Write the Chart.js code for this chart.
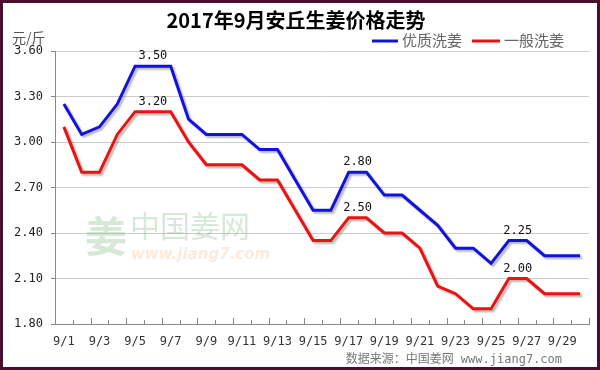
<!DOCTYPE html>
<html>
<head>
<meta charset="utf-8">
<script src="https://cdn.jsdelivr.net/npm/chart.js@4/dist/chart.umd.min.js"></script>
<style>
  body { margin: 0; background: #fff; }
  #wrap { width: 600px; height: 370px; position: relative; }
</style>
</head>
<body>
<div id="wrap"><canvas id="chart"></canvas></div>
<script>
// 2017年9月安丘生姜价格走势 (元/斤)
const days = ['9/1','9/2','9/3','9/4','9/5','9/6','9/7','9/8','9/9','9/10',
              '9/11','9/12','9/13','9/14','9/15','9/16','9/17','9/18','9/19','9/20',
              '9/21','9/22','9/23','9/24','9/25','9/26','9/27','9/28','9/29','9/30'];
const premium = [3.25,3.05,3.10,3.25,3.50,3.50,3.50,3.15,3.05,3.05,
                 3.05,2.95,2.95,2.75,2.55,2.55,2.80,2.80,2.65,2.65,
                 2.55,2.45,2.30,2.30,2.20,2.35,2.35,2.25,2.25,2.25];
const normal = [3.10,2.80,2.80,3.05,3.20,3.20,3.20,3.00,2.85,2.85,
                2.85,2.75,2.75,2.55,2.35,2.35,2.50,2.50,2.40,2.40,
                2.30,2.05,2.00,1.90,1.90,2.10,2.10,2.00,2.00,2.00];
const yTicks = [1.80, 2.10, 2.40, 2.70, 3.00, 3.30, 3.60];
const noteAt = [5, 16.5, 25.5];
const premiumNotes = ['3.50', '2.80', '2.25'];
const normalNotes = ['3.20', '2.50', '2.00'];

const monoFont = "'DejaVu Sans Mono', monospace";
const cjkFont = "'Noto Sans CJK SC', sans-serif";

const decorPlugin = {
    id: 'decor',
    beforeDatasetsDraw(chart) {
        var ctx = chart.ctx;
        // watermark
        ctx.save();
        ctx.textBaseline = 'middle';
        ctx.fillStyle = 'rgba(120,180,120,0.3)';
        ctx.font = "bold 42px " + cjkFont;
        ctx.fillText('姜', 85, 236);
        ctx.font = "30px " + cjkFont;
        ctx.fillText('中国姜网', 130, 226);
        ctx.fillStyle = 'rgba(245,170,110,0.25)';
        ctx.font = "italic bold 15px 'DejaVu Sans', sans-serif";
        ctx.fillText('www.jiang7.com', 131, 255);
        ctx.restore();
    },
    beforeDatasetDraw(chart) {
        var ctx = chart.ctx;
        ctx.save();
        ctx.shadowColor = 'rgba(90,90,90,0.45)';
        ctx.shadowBlur = 2;
        ctx.shadowOffsetX = 2;
        ctx.shadowOffsetY = 2;
    },
    afterDatasetDraw(chart) {
        chart.ctx.restore();
    },
    afterDraw(chart) {
        var ctx = chart.ctx;
        var area = chart.chartArea;
        var xs = chart.scales.x;
        var ys = chart.scales.y;
        ctx.save();

        // small tick marks inside the x axis
        var step = (area.right - area.left) / days.length;
        ctx.strokeStyle = '#888';
        ctx.lineWidth = 1;
        ctx.beginPath();
        for (var i = 1; i <= days.length; i++) {
            var tx = Math.round(area.left + i * step) + 0.5;
            ctx.moveTo(tx, area.bottom);
            ctx.lineTo(tx, area.bottom - (i % 2 == 0 ? 6 : 4));
        }
        ctx.stroke();

        // value notes
        ctx.fillStyle = '#111';
        ctx.font = "12px " + monoFont;
        ctx.textAlign = 'center';
        ctx.textBaseline = 'middle';
        for (var k = 0; k < noteAt.length; k++) {
            var nx = xs.getPixelForValue(noteAt[k]);
            var idx = Math.floor(noteAt[k]);
            ctx.fillText(premiumNotes[k], nx, ys.getPixelForValue(premium[idx]) - 10);
            ctx.fillText(normalNotes[k], nx, ys.getPixelForValue(normal[idx]) - 10);
        }

        // title
        ctx.fillStyle = '#000';
        ctx.font = "bold 20px " + cjkFont;
        ctx.fillText('2017年9月安丘生姜价格走势', 296, 20);

        // unit
        ctx.textAlign = 'left';
        ctx.fillStyle = '#555';
        ctx.font = "14px " + cjkFont;
        ctx.fillText('元/斤', 12, 38);

        // legend
        ctx.lineWidth = 3;
        ctx.strokeStyle = '#1212e0';
        ctx.beginPath(); ctx.moveTo(372, 41); ctx.lineTo(398, 41); ctx.stroke();
        ctx.strokeStyle = '#ee1111';
        ctx.beginPath(); ctx.moveTo(472, 41); ctx.lineTo(500, 41); ctx.stroke();
        ctx.fillStyle = '#666';
        ctx.font = "15px " + cjkFont;
        ctx.fillText('优质洗姜', 402, 40);
        ctx.fillText('一般洗姜', 504, 40);

        // source
        ctx.fillStyle = '#777';
        ctx.textAlign = 'right';
        ctx.font = "12px " + monoFont + ", " + cjkFont;
        ctx.fillText('数据来源：中国姜网 www.jiang7.com', 562, 360);

        // frame
        ctx.strokeStyle = '#4a0f2f';
        ctx.lineWidth = 3;
        ctx.strokeRect(1.5, 1.5, 597, 367);
        ctx.restore();
    }
};

new Chart(document.getElementById('chart'), {
    type: 'line',
    data: {
        labels: days,
        datasets: [
            { label: '优质洗姜', data: premium, borderColor: '#1212e0', borderWidth: 3,
              pointRadius: 0, tension: 0, fill: false },
            { label: '一般洗姜', data: normal, borderColor: '#ee1111', borderWidth: 3,
              pointRadius: 0, tension: 0, fill: false }
        ]
    },
    options: {
        responsive: true,
        maintainAspectRatio: false,
        animation: false,
        layout: { padding: { left: 2, right: 11, top: 51, bottom: 4 } },
        plugins: {
            legend: { display: false },
            title: { display: false },
            tooltip: { enabled: false }
        },
        scales: {
            x: {
                offset: true,
                grid: { display: false, drawTicks: false },
                border: { color: '#888', width: 1 },
                ticks: {
                    autoSkip: false,
                    maxRotation: 0,
                    padding: 11,
                    color: '#333',
                    font: { family: monoFont, size: 12 },
                    callback: function(v, i) { return i % 2 == 0 ? days[i] : ''; }
                },
                afterFit: function(s) { s.height = 42; }
            },
            y: {
                min: 1.8,
                max: 3.6,
                afterBuildTicks: function(s) { s.ticks = yTicks.map(function(v) { return { value: v }; }); },
                grid: { color: '#cccccc', tickLength: 4, tickColor: '#888' },
                border: { color: '#888', width: 1 },
                ticks: {
                    padding: 8,
                    color: '#222',
                    font: { family: monoFont, size: 12 },
                    callback: function(v) { return Number(v).toFixed(2); }
                },
                afterFit: function(s) { s.width = 53; }
            }
        }
    },
    plugins: [decorPlugin]
});
</script>
</body>
</html>
